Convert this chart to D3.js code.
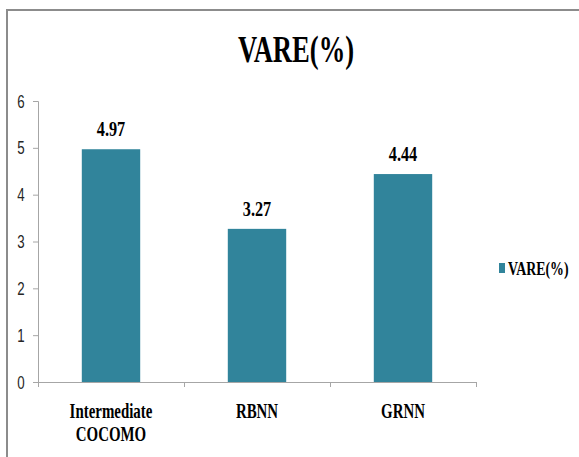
<!DOCTYPE html>
<html>
<head>
<meta charset="utf-8">
<script src="https://cdn.jsdelivr.net/npm/d3@7"></script>
<style>
  body { margin: 0; background: #fff; }
</style>
</head>
<body>
<div id="chart"></div>
<script>
// data
var categories = [["Intermediate", "COCOMO"], ["RBNN"], ["GRNN"]];
var values = [4.97, 3.27, 4.44];
var yTicks = [0, 1, 2, 3, 4, 5, 6];
var seriesName = "VARE(%)";

var width = 579;
var height = 457;
var barColor = "#31849b";
var axisColor = "#a6a6a6";

var svg = d3.select("#chart").append("svg")
    .attr("width", width)
    .attr("height", height);

// outer frame (only top and left show in the picture)
svg.append("path")
    .attr("d", "M7," + height + " V10 H" + width)
    .attr("fill", "none")
    .attr("stroke", "#8c8c8c")
    .attr("stroke-width", 2);

var xScale = d3.scaleBand()
    .domain(d3.range(categories.length))
    .range([38, 476])
    .paddingInner(0.6)
    .paddingOuter(0.3);

var yScale = d3.scaleLinear()
    .domain([0, 6])
    .range([382, 101]);

// squashed text, like the picture
function squash(sel, x, y, sx) {
    sel.attr("transform", "translate(" + x + "," + y + ") scale(" + sx + ",1)");
}

// title
svg.append("text")
    .text(seriesName)
    .attr("text-anchor", "middle")
    .style("font-family", "Liberation Serif")
    .style("font-weight", "bold")
    .style("font-size", "38px")
    .call(squash, 296, 62, 0.7);

// bars
svg.selectAll(".bar")
    .data(values).enter().append("rect")
    .attr("class", "bar")
    .attr("x", function(d, i){ return xScale(i); })
    .attr("y", function(d){ return yScale(d); })
    .attr("width", xScale.bandwidth())
    .attr("height", function(d){ return yScale(0) - yScale(d); })
    .style("fill", barColor);

// value labels
svg.selectAll(".val")
    .data(values).enter().append("text")
    .attr("class", "val")
    .text(function(d){ return d.toFixed(2); })
    .attr("text-anchor", "middle")
    .style("font-family", "Liberation Serif")
    .style("font-weight", "bold")
    .style("font-size", "22px")
    .each(function(d, i){
        d3.select(this).call(squash, xScale(i) + xScale.bandwidth() / 2, yScale(d) - 13, 0.74);
    });

// y axis
var yAxis = d3.axisLeft(yScale).tickValues(yTicks).tickSize(5).tickPadding(6)
    .tickFormat(d3.format("d"));
var gy = svg.append("g")
    .attr("transform", "translate(38,0)")
    .call(yAxis);
gy.select(".domain").attr("stroke", axisColor);
gy.selectAll(".tick line").attr("stroke", axisColor);
gy.selectAll(".tick text")
    .attr("x", null).attr("dy", null)
    .attr("text-anchor", "middle")
    .style("font-family", "Liberation Sans")
    .style("font-size", "18px")
    .style("fill", "#262626")
    .attr("transform", "translate(-17,6) scale(0.74,1)");

// x axis: ticks at band boundaries
var xAxis = d3.axisBottom(d3.scaleLinear().domain([0, 3]).range([38, 476]))
    .tickValues([0, 1, 2, 3]).tickSize(5).tickFormat("");
var gx = svg.append("g")
    .attr("transform", "translate(0,382)")
    .call(xAxis);
gx.select(".domain").attr("stroke", axisColor);
gx.selectAll(".tick line").attr("stroke", axisColor);

// category labels
categories.forEach(function(lines, i){
    lines.forEach(function(line, j){
        svg.append("text")
            .text(line)
            .attr("text-anchor", "middle")
            .style("font-family", "Liberation Serif")
            .style("font-weight", "bold")
            .style("font-size", "21px")
            .call(squash, xScale(i) + xScale.bandwidth() / 2, 418 + j * 23, 0.71);
    });
});

// legend
svg.append("rect")
    .attr("x", 499).attr("y", 263)
    .attr("width", 6).attr("height", 10)
    .style("fill", barColor);
svg.append("text")
    .text(seriesName)
    .style("font-family", "Liberation Serif")
    .style("font-weight", "bold")
    .style("font-size", "18px")
    .call(squash, 508, 275, 0.77);
</script>
</body>
</html>
